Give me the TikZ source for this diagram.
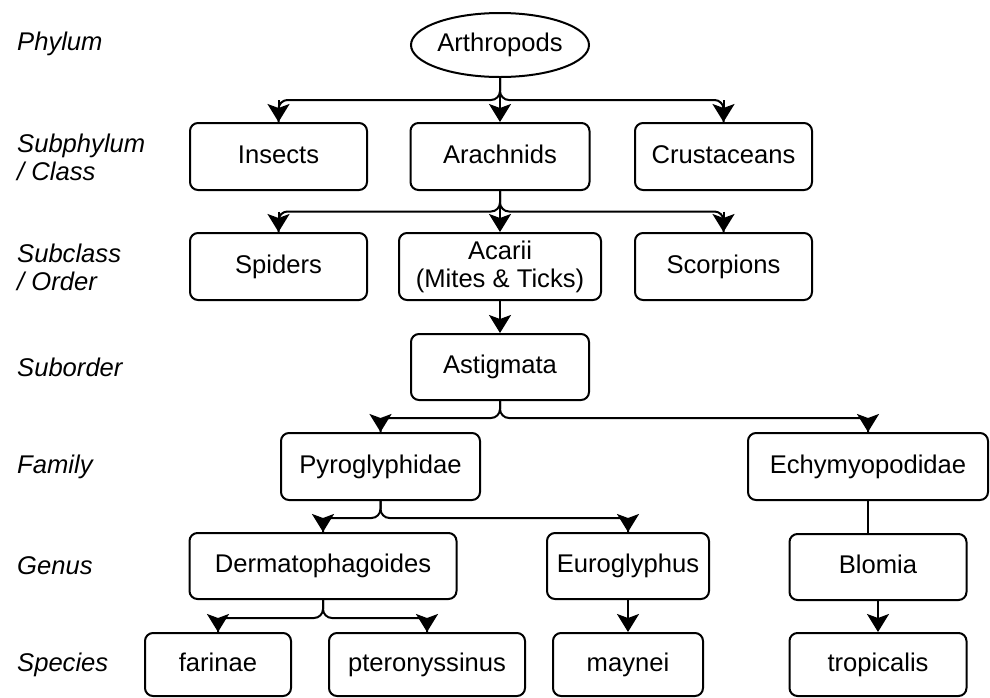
\documentclass[tikz,border=0pt]{standalone}
\usepackage{fontspec}
\setmainfont{Liberation Sans}
\usetikzlibrary{arrows.meta,shapes.geometric}
\newcommand\nodefont{\fontsize{25.6}{28}\selectfont}
\begin{document}
\begin{tikzpicture}[x=1pt,y=-1pt,
  basebox/.style={draw, line width=2pt, rounded corners=8pt, inner sep=0pt, align=center, font=\nodefont},
  box/.style={basebox, text height=18.5pt, text depth=5pt},
  oval/.style={draw, line width=2pt, ellipse, inner sep=0pt, font=\nodefont, text height=18.5pt, text depth=5pt, minimum width=178pt, minimum height=64pt},
  lab/.style={anchor=west, align=left, inner sep=0pt, font=\nodefont\itshape},
  conn/.style={line width=2pt, line join=round},
  arr/.style={conn, -{Stealth[length=18pt,width=22pt,inset=4pt]}},
  barr/.style={arr, rounded corners=9pt}
]
\useasboundingbox (0,0) rectangle (990,697);

% level labels
\node[lab] (lphy) at (17,44) {Phylum};
\node[lab] (lsub) at (17,157) {Subphylum\\/ Class};
\node[lab] (lcls) at (17,267) {Subclass\\/ Order};
\node[lab] (lord) at (17,367) {Suborder};
\node[lab] (lfam) at (17,467) {Family};
\node[lab] (lgen) at (17,566) {Genus};
\node[lab] (lspe) at (17,665) {Species};

% nodes
\node[oval] (arth) at (500,45) {Arthropods};

\node[box, minimum width=177pt, minimum height=67pt] (insects) at (278.5,156.5) {Insects};
\node[box, minimum width=179pt, minimum height=67pt] (arach) at (500,156.5) {Arachnids};
\node[box, minimum width=177pt, minimum height=67pt] (crust) at (723.5,156.5) {Crustaceans};

\node[box, minimum width=177pt, minimum height=67pt] (spiders) at (278.5,266.5) {Spiders};
\node[basebox, minimum width=202pt, minimum height=67pt] (acarii) at (500,266.5) {Acarii\\(Mites \& Ticks)};
\node[box, minimum width=177pt, minimum height=67pt] (scorp) at (723.5,266.5) {Scorpions};

\node[box, minimum width=178pt, minimum height=66pt] (astig) at (500,367) {Astigmata};

\node[box, minimum width=199pt, minimum height=67pt] (pyro) at (380.5,466.5) {Pyroglyphidae};
\node[box, minimum width=240pt, minimum height=67pt] (echy) at (868,466.5) {Echymyopodidae};

\node[box, minimum width=267pt, minimum height=66pt] (derm) at (323,566) {Dermatophagoides};
\node[box, minimum width=162pt, minimum height=66pt] (euro) at (628,566) {Euroglyphus};
\node[box, minimum width=177pt, minimum height=66pt] (blomia) at (878,567) {Blomia};

\node[box, minimum width=146pt, minimum height=63pt] (farinae) at (218,664.5) {farinae};
\node[box, minimum width=196pt, minimum height=63pt] (pteron) at (427,664.5) {pteronyssinus};
\node[box, minimum width=150pt, minimum height=63pt] (maynei) at (628,664.5) {maynei};
\node[box, minimum width=177pt, minimum height=63pt] (tropic) at (878,664.5) {tropicalis};

% branch levels
\coordinate (b1) at (500,100);
\coordinate (b2) at (500,211.5);
\coordinate (b4) at (500,418);
\coordinate (b5) at (380.5,518);
\coordinate (b6) at (323,618);

% connector lines
\draw[conn, rounded corners=9pt] (arth.south) |- (insects.north |- b1) -- (insects.north);
\draw[conn, rounded corners=9pt] (arth.south) |- (crust.north |- b1) -- (crust.north);
\draw[conn, rounded corners=9pt] (arach.south) |- (spiders.north |- b2) -- (spiders.north);
\draw[conn, rounded corners=9pt] (arach.south) |- (scorp.north |- b2) -- (scorp.north);
\draw[conn, rounded corners=9pt] (astig.south) |- (pyro.north |- b4) -- (pyro.north);
\draw[conn, rounded corners=9pt] (astig.south) |- (echy.north |- b4) -- (echy.north);
\draw[conn, rounded corners=9pt] (pyro.south) |- (derm.north |- b5) -- (derm.north);
\draw[conn, rounded corners=9pt] (pyro.south) |- (euro.north |- b5) -- (euro.north);
\draw[conn, rounded corners=9pt] (derm.south) |- (farinae.north |- b6) -- (farinae.north);
\draw[conn, rounded corners=9pt] (derm.south) |- (pteron.north |- b6) -- (pteron.north);
\draw[conn] (echy.south) -- (echy.south |- blomia.north);

% arrowheads of branched connectors
\foreach \c/\b in {insects/b1, crust/b1, spiders/b2, scorp/b2, pyro/b4, echy/b4, derm/b5, euro/b5, farinae/b6, pteron/b6}
  \draw[arr] (\c.north |- \b) -- (\c.north);

% straight connectors
\draw[arr] (arth.south) -- (arach.north);
\draw[arr] (arach.south) -- (acarii.north);
\draw[arr] (acarii.south) -- (astig.north);
\draw[arr] (euro.south) -- (maynei.north);
\draw[arr] (blomia.south) -- (tropic.north);
\end{tikzpicture}
\end{document}
